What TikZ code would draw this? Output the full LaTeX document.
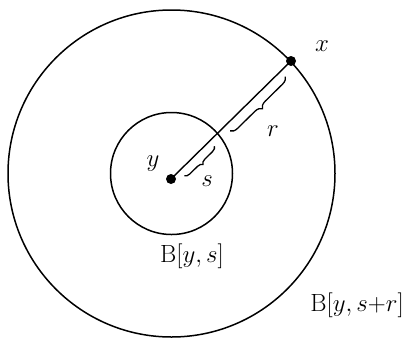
\documentclass[tikz,border=0pt]{standalone}
\usetikzlibrary{calc,decorations.pathreplacing}
\begin{document}
\begin{tikzpicture}[x=1pt,y=-1pt,
  ring/.style={draw=black,line width=1.5pt},
  seg/.style={draw=black,line width=1.4pt},
  pt/.style={circle,fill=black,inner sep=0pt,minimum size=10pt},
  lbl/.style={inner sep=0pt,font=\fontsize{23}{27}\selectfont},
  cbrace/.style={draw=black,line width=1.3pt,decorate,decoration={brace,amplitude=7pt,aspect=0.5}}]
\useasboundingbox (0,0) rectangle (417,338);
\coordinate (C) at (171.5,173.5);
\draw[ring] (C) circle (163.5);
\draw[ring] (C) circle (61);
\node[pt] (Y) at (171,179) {};
\node[pt] (X) at (291,61) {};
\draw[seg] (Y.center) -- (X.center);
\coordinate (r1) at ($(Y.center)!0.91!(X.center)+(5,5)$);
\coordinate (r2) at ($(Y.center)!0.45!(X.center)+(5,5)$);
\draw[cbrace] (r1) -- (r2);
\coordinate (s1) at ($(Y.center)!0.32!(X.center)+(5,5)$);
\coordinate (s2) at ($(Y.center)!0.07!(X.center)+(5,5)$);
\draw[cbrace,decoration={amplitude=5pt}] (s1) -- (s2);
\node[lbl,font=\fontsize{32}{36}\selectfont] (ly) at (153,164) {$y$};
\node[lbl,font=\fontsize{28}{32}\selectfont] (lx) at (322,46) {$x$};
\node[lbl] (lr) at (273,131) {$r$};
\node[lbl] (ls) at (207,181) {$s$};
\node[lbl] (lb1) at (192,256) {$\mathrm{B}[y,s]$};
\node[lbl,font=\fontsize{26}{30}\selectfont] (lb2) at (357,305) {$\mathrm{B}[y,s{+}r]$};
\end{tikzpicture}
\end{document}
